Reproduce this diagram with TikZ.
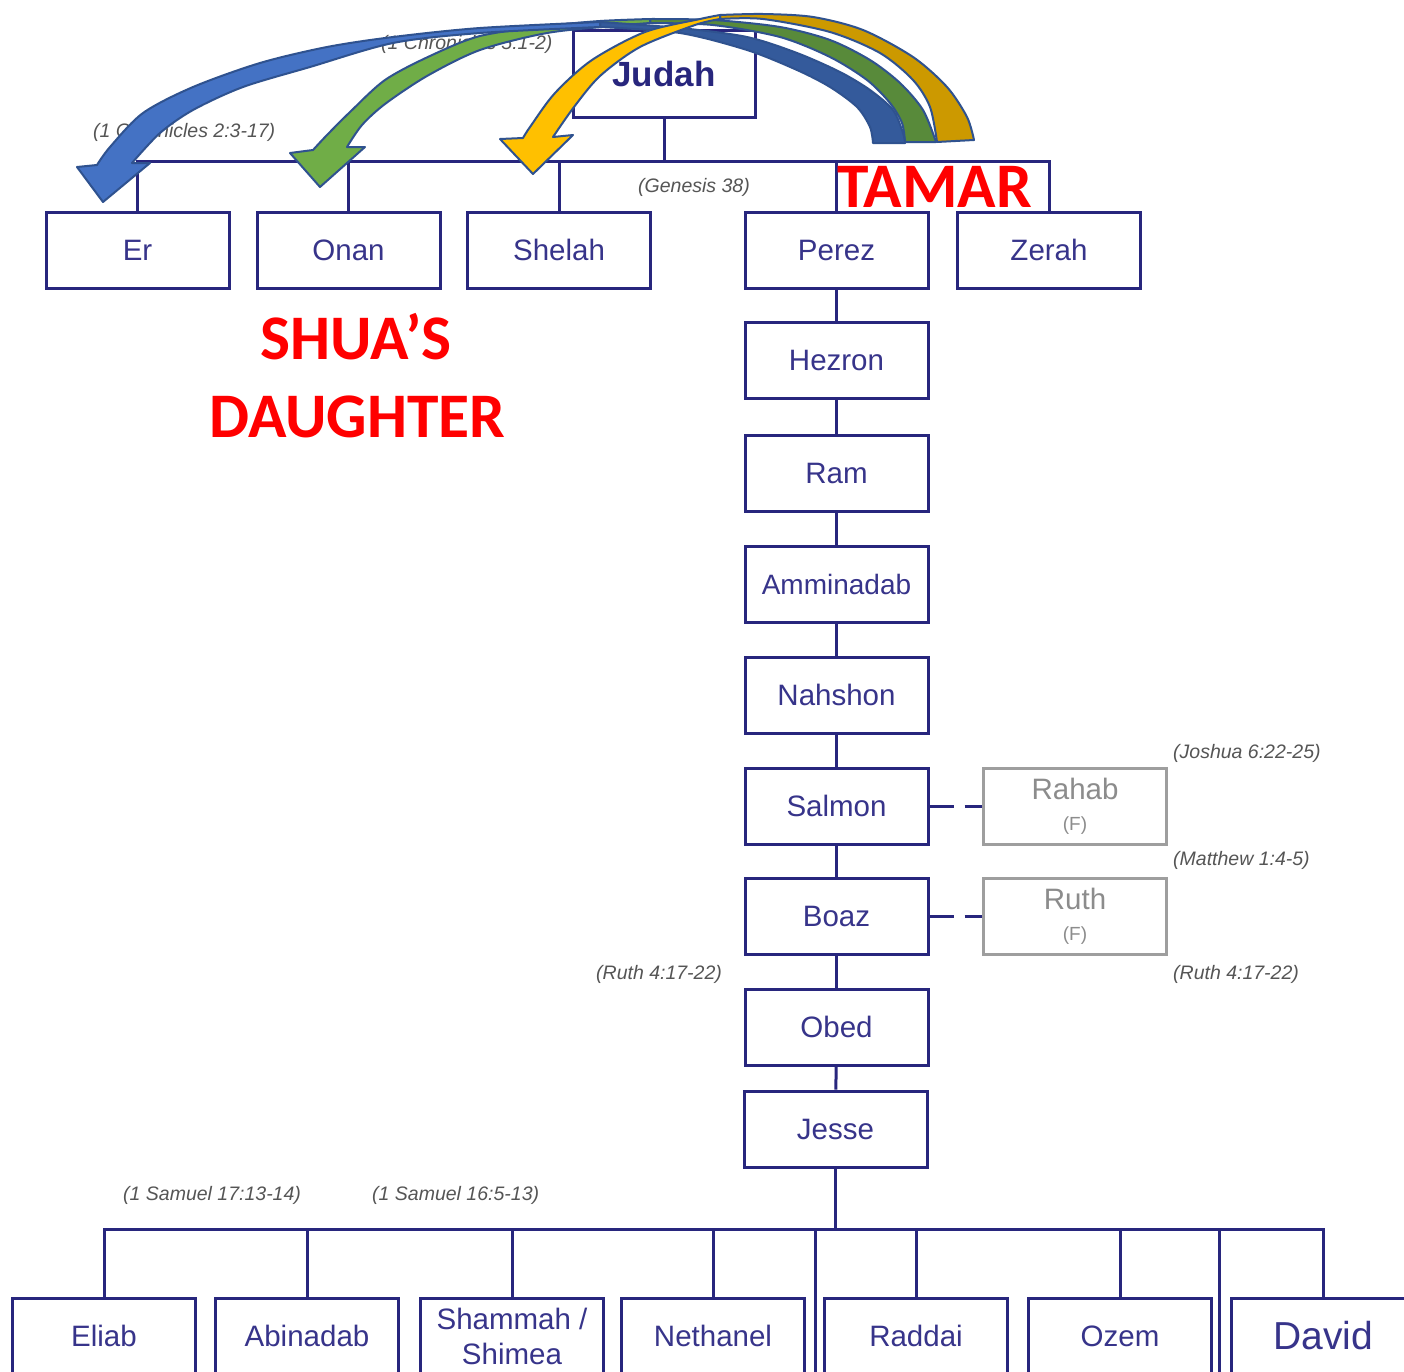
\documentclass[tikz,border=0pt]{standalone}
\usepackage{fontspec}
\setmainfont{Liberation Sans}
\newfontfamily\calfont{Carlito}
\newcommand{\namefont}{\fontsize{29.5}{35}\selectfont}
\newcommand{\judahfont}{\fontsize{35}{40}\selectfont\bfseries}
\newcommand{\davidfont}{\fontsize{39}{44}\selectfont}
\newcommand{\citefnt}{\fontsize{19.5}{22}\selectfont\itshape}
\newcommand{\smallF}{\fontsize{19}{22}\selectfont}
\newcommand{\redfont}{\calfont\bfseries\fontsize{63.5}{78}\selectfont}
\definecolor{navy}{RGB}{40,38,125}
\definecolor{navytext}{RGB}{55,52,138}
\definecolor{citegray}{RGB}{85,85,85}
\definecolor{boxgray}{RGB}{158,158,158}
\definecolor{textgray}{RGB}{140,140,140}
\definecolor{bluefront}{RGB}{68,114,196}
\definecolor{blueback}{RGB}{52,90,155}
\definecolor{greenfront}{RGB}{112,173,71}
\definecolor{greenback}{RGB}{88,138,58}
\definecolor{goldfront}{RGB}{255,192,0}
\definecolor{goldback}{RGB}{204,153,0}
\definecolor{arrowline}{RGB}{47,82,143}
\begin{document}
\begin{tikzpicture}[x=1pt,y=-1pt,
  pbox/.style={draw=navy, line width=3pt, fill=white, minimum width=183pt, minimum height=76pt, inner sep=0pt, text=navytext, font=\namefont, align=center},
  fbox/.style={pbox, draw=boxgray, text=textgray},
  cite/.style={anchor=west, inner sep=0pt, text=citegray, font=\citefnt},
  link/.style={draw=navy, line width=3pt},
  redlab/.style={text=red, font=\redfont, inner sep=0pt},
  arrowshape/.style={draw=arrowline, line width=2pt, line join=round}]
\useasboundingbox (0,0) rectangle (1404,1371);
\clip (0,0) rectangle (1404,1371);
\fill[white] (0,0) rectangle (1404,1371);

% ---- free connector ends ----
\coordinate (jbar) at (664,161);
\coordinate (bbar) at (835.5,1229);
\coordinate (ex1top) at (815,1229);
\coordinate (ex1bot) at (815,1380);
\coordinate (ex2top) at (1219.5,1229);
\coordinate (ex2bot) at (1219.5,1380);

% ---- nodes ----
\node[pbox, minimum width=182pt, minimum height=87pt, font=\judahfont, text=navy] (judah) at (664,73.5) {Judah};
\node[pbox] (er) at (137.5,250) {Er};
\node[pbox] (onan) at (348.5,250) {Onan};
\node[pbox] (shelah) at (559,250) {Shelah};
\node[pbox] (perez) at (836.5,250) {Perez};
\node[pbox] (zerah) at (1049,250) {Zerah};
\node[pbox] (hezron) at (836.5,360) {Hezron};
\node[pbox] (ram) at (836.5,473) {Ram};
\node[pbox, font=\fontsize{28}{33}\selectfont] (amminadab) at (836.5,584) {Amminadab};
\node[pbox] (nahshon) at (836.5,695) {Nahshon};
\node[pbox] (salmon) at (836.5,806) {Salmon};
\node[pbox] (boaz) at (836.5,916) {Boaz};
\node[pbox] (obed) at (836.5,1027) {Obed};
\node[pbox] (jesse) at (835.5,1129) {Jesse};
\node[fbox] (rahab) at (1075,806) {Rahab\\[-4pt]{\smallF (F)}};
\node[fbox] (ruth) at (1075,916) {Ruth\\[-4pt]{\smallF (F)}};

\node[pbox] (eliab) at (104,1336) {Eliab};
\node[pbox] (abinadab) at (307,1336) {Abinadab};
\node[pbox] (shammah) at (512,1336) {Shammah /\\Shimea};
\node[pbox] (nethanel) at (713,1336) {Nethanel};
\node[pbox] (raddai) at (916,1336) {Raddai};
\node[pbox] (ozem) at (1120,1336) {Ozem};
\node[pbox, font=\davidfont] (david) at (1323,1336) {David};

% ---- tree lines ----
\draw[link] (judah.south) -- (jbar);
\draw[link] (er.north) -- (er.north |- jbar) -- (zerah.north |- jbar) -- (zerah.north);
\draw[link] (onan.north) -- (onan.north |- jbar);
\draw[link] (shelah.north) -- (shelah.north |- jbar);
\draw[link] (perez.north) -- (perez.north |- jbar);
\draw[link] (perez) -- (hezron);
\draw[link] (hezron) -- (ram);
\draw[link] (ram) -- (amminadab);
\draw[link] (amminadab) -- (nahshon);
\draw[link] (nahshon) -- (salmon);
\draw[link] (salmon) -- (boaz);
\draw[link] (boaz) -- (obed);
\draw[link] (obed) -- (jesse);
\draw[link, dash pattern=on 24pt off 11pt] (salmon) -- (rahab);
\draw[link, dash pattern=on 24pt off 11pt] (boaz) -- (ruth);
\draw[link] (jesse) -- (bbar);
\draw[link] (eliab.north) -- (eliab.north |- bbar) -- (david.north |- bbar) -- (david.north);
\draw[link] (abinadab.north) -- (abinadab.north |- bbar);
\draw[link] (shammah.north) -- (shammah.north |- bbar);
\draw[link] (nethanel.north) -- (nethanel.north |- bbar);
\draw[link] (raddai.north) -- (raddai.north |- bbar);
\draw[link] (ozem.north) -- (ozem.north |- bbar);
\draw[link] (ex1top) -- (ex1bot);
\draw[link] (ex2top) -- (ex2bot);

% ---- citations ----
\node[cite] (c1) at (381,44) {(1 Chronicles 5:1-2)};
\node[cite] (c2) at (93,132) {(1 Chronicles 2:3-17)};
\node[cite] (c3) at (638,187) {(Genesis 38)};
\node[cite] (c4) at (1173,753) {(Joshua 6:22-25)};
\node[cite] (c5) at (1173,860) {(Matthew 1:4-5)};
\node[cite] (c6) at (1173,974) {(Ruth 4:17-22)};
\node[cite] (c7) at (596,974) {(Ruth 4:17-22)};
\node[cite] (c8) at (123,1195) {(1 Samuel 17:13-14)};
\node[cite] (c9) at (372,1195) {(1 Samuel 16:5-13)};

% ---- red labels ----
\node[redlab, anchor=base west] (tamar) at (837,207) {TAMAR};
\node[redlab, anchor=base] (shua1) at (356,359) {SHUA’S};
\node[redlab, anchor=base] (shua2) at (357.5,437) {DAUGHTER};

% ---- curved arrows ----
% green
\filldraw[arrowshape, fill=greenback] (905,142) -- (936,142)
  -- plot[smooth] coordinates {(936,142) (923,110) (900,83) (870,60) (830,40) (780,27) (713,20) (650,19)}
  -- plot[smooth] coordinates {(650,23) (713,25) (780,37) (830,57) (867,80) (890,103) (902,123) (905,142)} -- cycle;
\filldraw[arrowshape, fill=greenfront] (650,19)
  -- plot[smooth] coordinates {(650,19) (600,21) (547,26) (480,36) (430,56) (385,80) (350,112) (327,135) (313,150)}
  -- (290,153) -- (320,187) -- (365,147) -- (347,147)
  -- plot[smooth] coordinates {(347,147) (362,125) (385,104) (427,76) (480,50) (547,33) (613,26) (650,23)} -- cycle;
% blue
\filldraw[arrowshape, fill=blueback] (873,143) -- (905,143)
  -- plot[smooth] coordinates {(905,143) (903,133) (893,110) (870,90) (840,72) (797,53) (747,37) (680,28) (600,22)}
  -- plot[smooth] coordinates {(600,27) (680,33) (747,50) (797,70) (830,87) (857,107) (870,127) (873,143)} -- cycle;
\filldraw[arrowshape, fill=bluefront] (600,22)
  -- plot[smooth] coordinates {(600,22) (480,28) (393,37) (327,47) (260,63) (193,87) (143,113) (110,147) (97,165)}
  -- (77,167) -- (103,202) -- (150,163) -- (132,163)
  -- plot[smooth] coordinates {(132,163) (160,133) (193,110) (243,87) (310,67) (393,43) (480,33) (600,27)} -- cycle;
% gold
\filldraw[arrowshape, fill=goldback] (937,142) -- (974,140)
  -- plot[smooth] coordinates {(974,140) (967,117) (947,87) (913,57) (863,30) (813,17) (763,14) (720,15)}
  -- plot[smooth] coordinates {(720,19) (763,19) (830,32) (880,53) (913,80) (930,107) (937,142)} -- cycle;
\filldraw[arrowshape, fill=goldfront] (720,15)
  -- plot[smooth] coordinates {(720,15) (700,19) (645,32) (592,60) (555,93) (530,127) (523,138)}
  -- (500,139) -- (533,174) -- (573,135) -- (553,137)
  -- plot[smooth] coordinates {(553,137) (574,107) (600,76) (640,47) (695,25) (720,19)} -- cycle;
\end{tikzpicture}
\end{document}
